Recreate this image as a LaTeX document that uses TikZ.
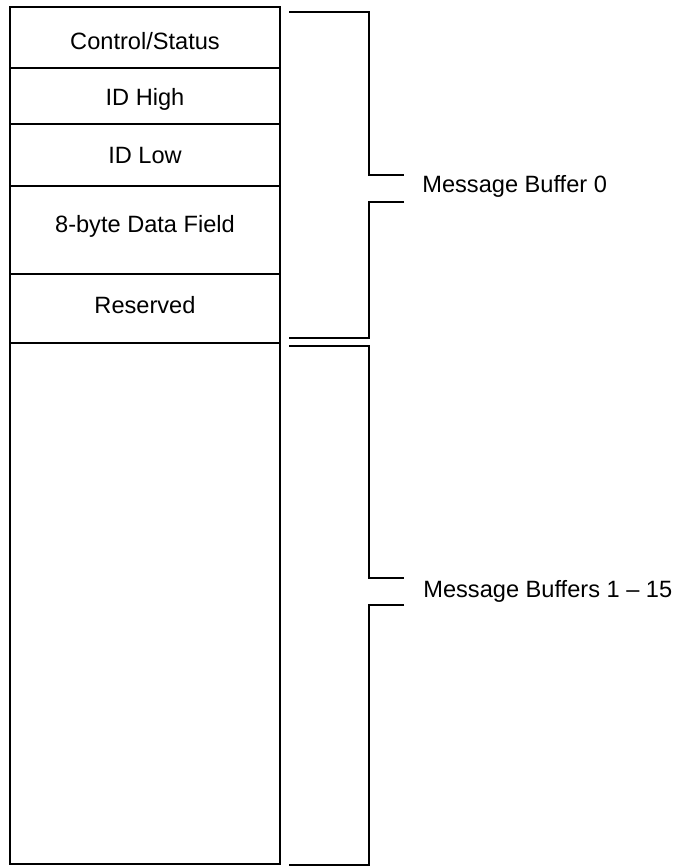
\documentclass[tikz,border=0pt]{standalone}
\usepackage{fontspec}
\setmainfont{Liberation Sans}
\usepackage{tikz}

\begin{document}
\begin{tikzpicture}[x=0.5pt,y=-0.5pt,every node/.style={font=\fontsize{11.8}{14}\selectfont,inner sep=0pt},
 field/.style={line width=1pt},brk/.style={line width=0.8pt}]
\useasboundingbox (0,0) rectangle (681,866);
% buffer fields
\foreach \a/\b/\y/\txt/\nm in {7/68/50/{Control/Status}/cs,68/124/106/ID High/idh,124/186/164/ID Low/idl,
 186/274/233/8-byte Data Field/data,274/343/313/Reserved/res,343/864/604/{}/rest}{
 \draw[field] (10,\a) rectangle (280,\b);
 \node[anchor=base] (\nm) at (145,\y) {\txt};}
% labels
\node[anchor=base west] (mb0) at (422,192) {Message Buffer 0};
\node[anchor=base west] (mb1) at (423,597) {Message Buffers 1 -- 15};
% bracket ends
\coordinate (b0t) at (289,12);
\coordinate (b0u) at (404,175);
\coordinate (b0l) at (404,202);
\coordinate (b0b) at (289,338);
\coordinate (b1t) at (289,346);
\coordinate (b1u) at (404,578);
\coordinate (b1l) at (404,605);
\coordinate (b1b) at (289,865);
\draw[brk] (b0t) -| (369,175) -- (b0u);
\draw[brk] (b0l) -| (369,338) -- (b0b);
\draw[brk] (b1t) -| (369,578) -- (b1u);
\draw[brk] (b1l) -| (369,865) -- (b1b);
\end{tikzpicture}
\end{document}
